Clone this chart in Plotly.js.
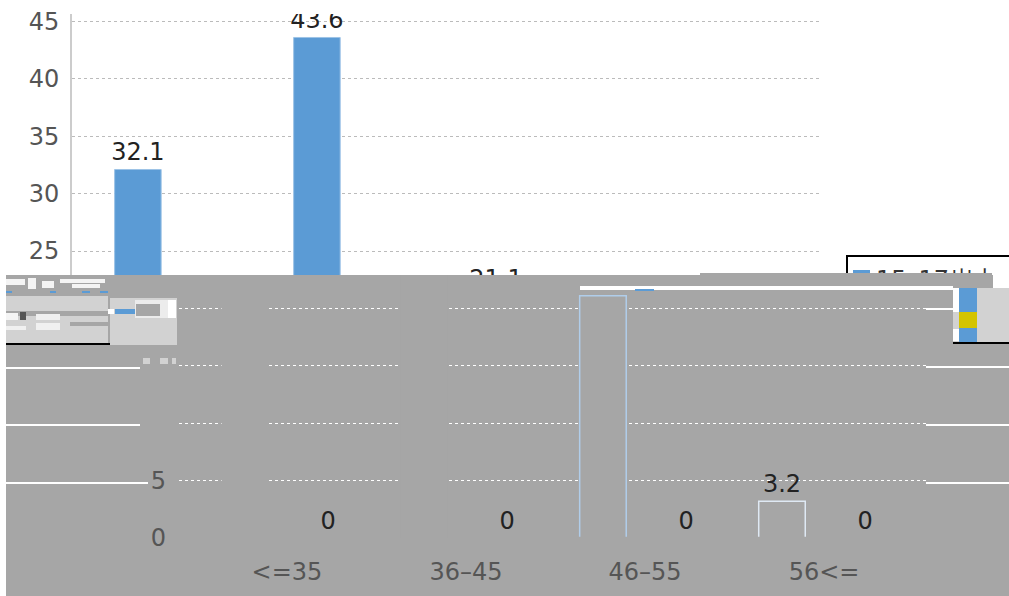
<!DOCTYPE html>
<html><head><meta charset="utf-8">
<script src="https://cdn.plot.ly/plotly-3.0.1.min.js"></script>
<style>html,body{margin:0;padding:0;background:#fff}#c{width:1009px;height:596px}</style></head>
<body><div id="c"></div>
<script>
const categories = ['<=35','36–45','46–55','56<='];
const series1 = [32.1,43.6,21.1,3.2];
const series2 = [0,0,0,0];
const upperTicks = [25,30,35,40,45];
const lowerTicks = [0,5,10,15,20];
const lowerTickText = ['0','5','','',''];
const legendLabel = ['15–17岁上'];

const W=1009,H=596, PXV=11.48, Y0=538, SHIFT=107;
const fx=p=>p/W, fy=p=>1-p/H, val=p=>(Y0-p)/PXV;
const FONT='"DejaVu Sans", sans-serif';
const xr=[-0.603,3.575];
const BW=0.26, OFF1=-0.365, OFF2=0.1;
const BLUE='#5b9bd5', YEL='#d4c400', GREY='#a6a6a6', LIGHT='#d2d2d2';
const FS=24;

const traces=[
 {type:'bar',x:categories,y:series1,width:BW,offset:OFF1,marker:{color:BLUE,line:{color:'#9dc3e6',width:1}},
  text:series1.map(String),textposition:'outside',textfont:{family:FONT,size:FS,color:'#222'},constraintext:'none',cliponaxis:true,xaxis:'x',yaxis:'y'},
 {type:'bar',x:categories,y:series1,width:BW,offset:OFF1,
  marker:{color:GREY,line:{color:['rgba(0,0,0,0)','rgba(0,0,0,0)','#b0cdea','#dfe9f4'],width:1.5}},
  text:series1.map(v=>v<5?String(v):''),textposition:'outside',textfont:{family:FONT,size:FS,color:'#222'},constraintext:'none',cliponaxis:true,xaxis:'x2',yaxis:'y2'},
 {type:'bar',x:categories,y:series2,width:BW,offset:OFF2,marker:{color:YEL},
  text:series2.map(String),textposition:'outside',textfont:{family:FONT,size:FS,color:'#222'},constraintext:'none',cliponaxis:false,xaxis:'x2',yaxis:'y2'},
 {type:'scatter',mode:'text',x:[0],y:[0],text:legendLabel,textposition:'bottom right',textfont:{family:FONT,size:FS,color:'#333'},cliponaxis:true,xaxis:'x3',yaxis:'y3'}
];

const rect=(x0,y0,x1,y1,c,layer)=>({type:'rect',xref:'paper',yref:'paper',x0:fx(x0),x1:fx(x1),y0:fy(y0),y1:fy(y1),fillcolor:c,line:{width:0},layer:layer||'below'});
const shapes=[
 rect(6,275,1009,596,GREY), rect(700,273,992,275,GREY),
 // left debris of the displaced legend
 rect(6,296,108,343,LIGHT), rect(110,298,177,345,LIGHT),
 rect(6,343,110,345,'#000'),
 rect(6,279,25,285,'#f4f4f4'), rect(28,278,36,289,'#f4f4f4'), rect(42,281,54,288,'#f4f4f4'), rect(60,279,105,283,'#f4f4f4'), rect(72,284,100,288,'#f4f4f4'),
 rect(6,291,12,293,BLUE), rect(50,291,56,293,BLUE), rect(82,291,90,293,BLUE), rect(100,291,108,293,BLUE),
 rect(6,311,108,316,GREY), rect(6,313,18,320,'#f4f4f4'), rect(20,312,26,320,'#555'),
 rect(36,314,60,320,'#f0f0f0'), rect(36,323,60,330,'#f0f0f0'), rect(6,326,26,330,'#f0f0f0'), rect(70,322,108,326,GREY),
 rect(108,309,114,314,'#fff'), rect(115,309,135,314,BLUE), rect(135,300,176,318,'#ececec'), rect(136,304,160,316,GREY), rect(168,300,176,318,'#fff'),
 rect(143,358,150,364,LIGHT), rect(160,358,168,364,LIGHT), rect(172,358,176,364,LIGHT),
 // solid white rule ends
 rect(6,367,140,369,'#fff'), rect(6,424,140,426,'#fff'), rect(6,482,148,484,'#fff'),
 rect(926,366,1009,368,'#fff'), rect(926,424,1009,426,'#fff'), rect(926,482,1009,484,'#fff'),
 rect(926,308,953,310,'#fff'),
 rect(580,286,953,290,'#fff'), rect(635,289,654,291,BLUE),
 // right debris of the displaced legend
 rect(953,288,1009,342,LIGHT), rect(953,288,959,312,'#fff'), rect(953,329,959,341,'#fff'),
 rect(959,288,977,312,BLUE), rect(959,312,977,328,YEL), rect(959,328,977,342,BLUE),
 rect(953,342,1009,344,'#000'), rect(993,273,1009,288,'#fff'),
 // legend frame, top part
 rect(846,255,1009,257,'#000'), rect(846,255,848,273,'#000'), rect(853,270,870,273,BLUE),
 // open base of the lower bars
 rect(575,536.8,810,540,GREY,'above')
];

const layout={
 width:W,height:H,margin:{l:0,r:0,t:0,b:0},paper_bgcolor:'#fff',plot_bgcolor:'rgba(0,0,0,0)',
 showlegend:false,barmode:'overlay',font:{family:FONT,color:'#555'},shapes,
 xaxis:{domain:[fx(72),fx(820)],range:xr,type:'category',categoryorder:'array',categoryarray:categories,showticklabels:false,ticks:'',showgrid:false,zeroline:false,anchor:'y'},
 yaxis:{domain:[fy(275),fy(14)],range:[val(275),val(14)],tickvals:upperTicks,ticks:'',tickfont:{family:FONT,size:FS,color:'#555'},
        showline:true,linecolor:'#cccccc',linewidth:2,gridcolor:'#bbbbbb',griddash:'dot',gridwidth:1,zeroline:false,anchor:'x',ticklabelstandoff:6},
 xaxis2:{domain:[fx(72+SHIFT),fx(820+SHIFT)],range:xr,type:'category',categoryorder:'array',categoryarray:categories,showgrid:false,zeroline:false,
        ticks:'outside',ticklen:12,tickcolor:'rgba(0,0,0,0)',tickfont:{family:FONT,size:FS,color:'#555'},anchor:'y2'},
 yaxis2:{domain:[fy(Y0),fy(275)],range:[0,val(275)],tickvals:lowerTicks,ticktext:lowerTickText,ticks:'',tickfont:{family:FONT,size:FS,color:'#555'},
        showline:false,gridcolor:'#ffffff',griddash:'dot',gridwidth:1,zeroline:true,zerolinecolor:GREY,anchor:'x2',ticklabelstandoff:12},
 xaxis3:{domain:[fx(876),fx(1009)],range:[0,1],visible:false,anchor:'y3'},
 yaxis3:{domain:[fy(273),fy(256)],range:[-3,14],visible:false,anchor:'x3'}
};
Plotly.newPlot('c',traces,layout,{displayModeBar:false,staticPlot:true});
</script></body></html>
